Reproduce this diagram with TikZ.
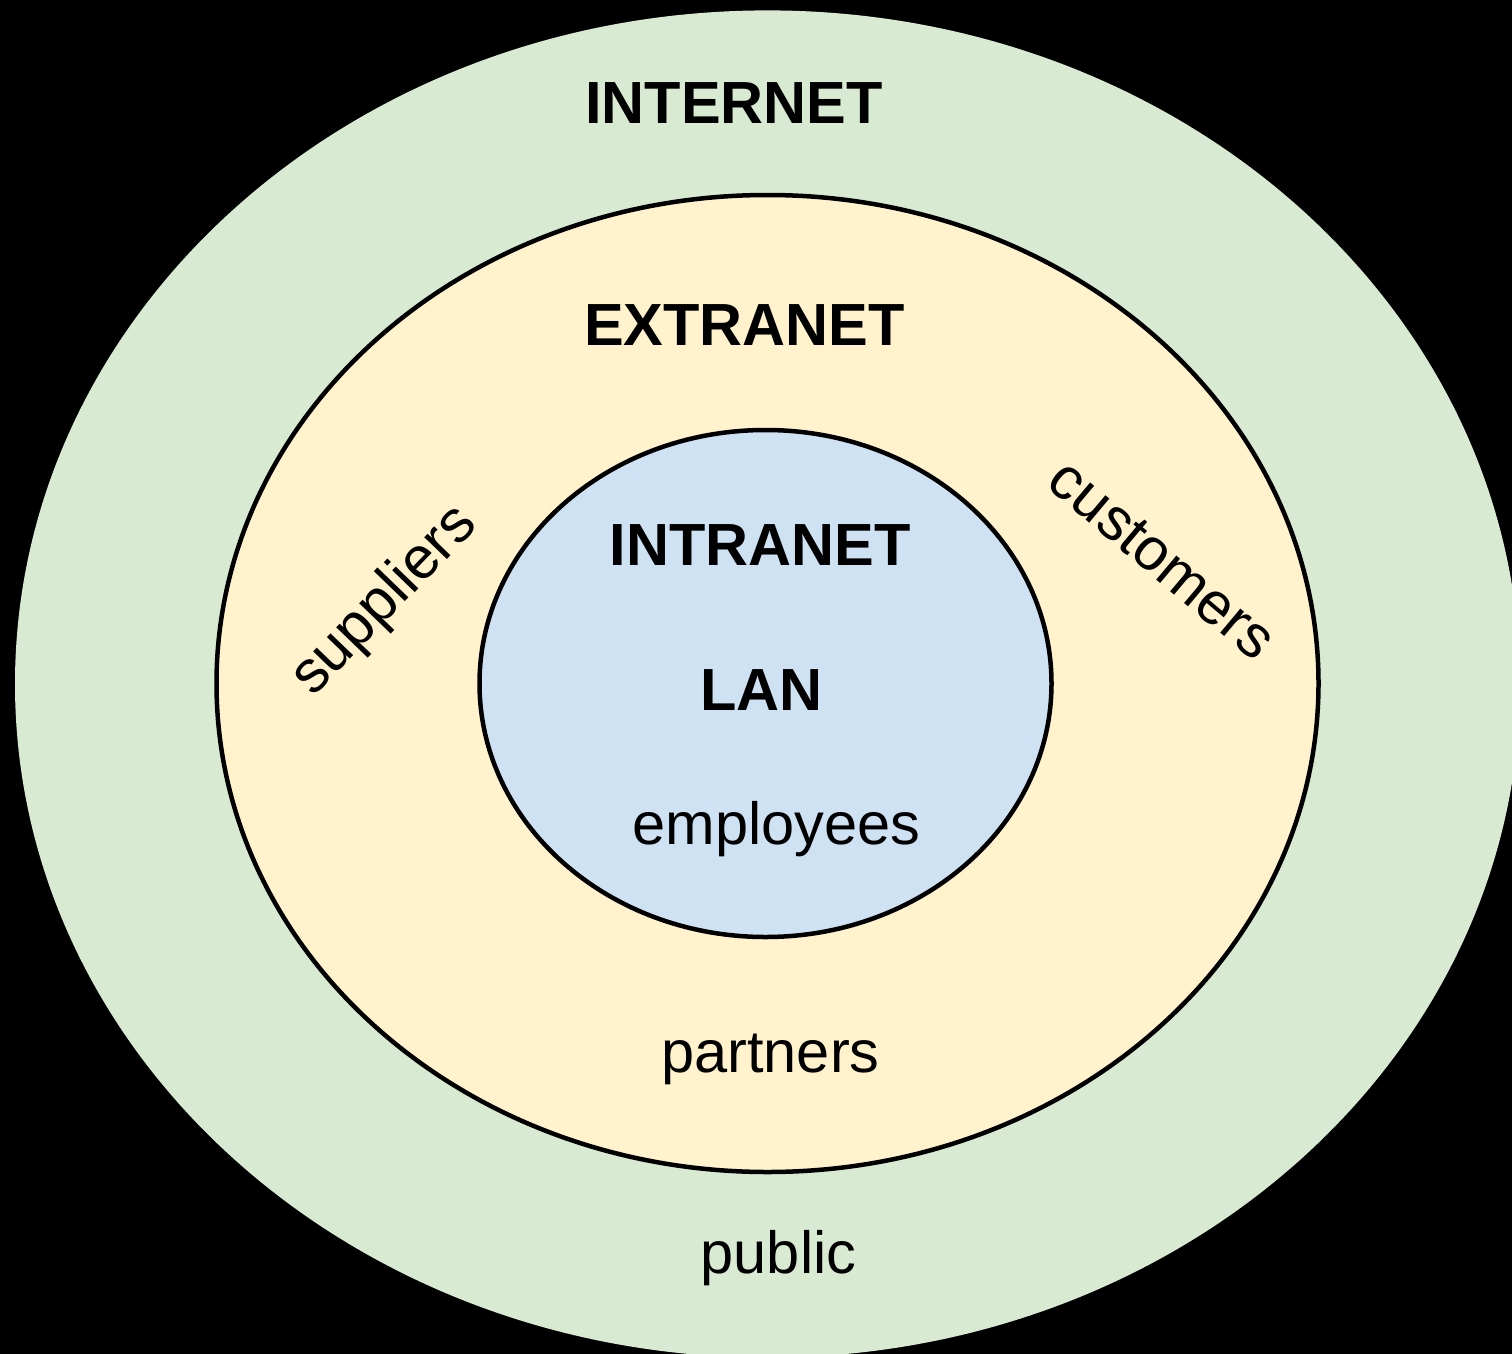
\documentclass[tikz,border=0pt]{standalone}
\usepackage{fontspec}
\setmainfont{Liberation Sans}
\definecolor{netgreen}{HTML}{D9EAD3}
\definecolor{netyellow}{HTML}{FFF2CC}
\definecolor{netblue}{HTML}{CFE2F3}
\tikzset{
  ring/.style={draw=black, line width=4.5pt},
  lbl/.style={inner sep=0pt, anchor=base, text=black, font=\fontsize{59.5}{70}\selectfont},
  head/.style={lbl, font=\fontsize{59.5}{70}\selectfont\bfseries}
}
\begin{document}
\begin{tikzpicture}[x=1pt, y=-1pt]
\useasboundingbox (0,0) rectangle (1512,1354);
\clip (0,0) rectangle (1512,1354);
\fill[black] (0,0) rectangle (1512,1354);
% outer (internet)
\fill[netgreen] (767.5,684) ellipse [x radius=752.5pt, y radius=673.6pt];
% middle (extranet)
\filldraw[ring, fill=netyellow] (767.5,683.5) ellipse [x radius=551pt, y radius=488.5pt];
% inner (intranet)
\filldraw[ring, fill=netblue] (765.5,683.5) ellipse [x radius=286pt, y radius=253.5pt];
% labels
\node[head] (internet) at (734,123) {INTERNET};
\node[head] (extranet) at (744.5,345) {EXTRANET};
\node[head] (intranet) at (760,565) {INTRANET};
\node[head] (lan) at (761.5,710) {LAN};
\node[lbl] (employees) at (776.5,844) {employees};
\node[lbl] (partners) at (770.5,1072) {partners};
\node[lbl] (public) at (778.5,1273) {public};
\node[lbl, rotate=46] (suppliers) at (396,612) {suppliers};
\node[lbl, rotate=-40] (customers) at (1150,574) {customers};
\end{tikzpicture}
\end{document}
